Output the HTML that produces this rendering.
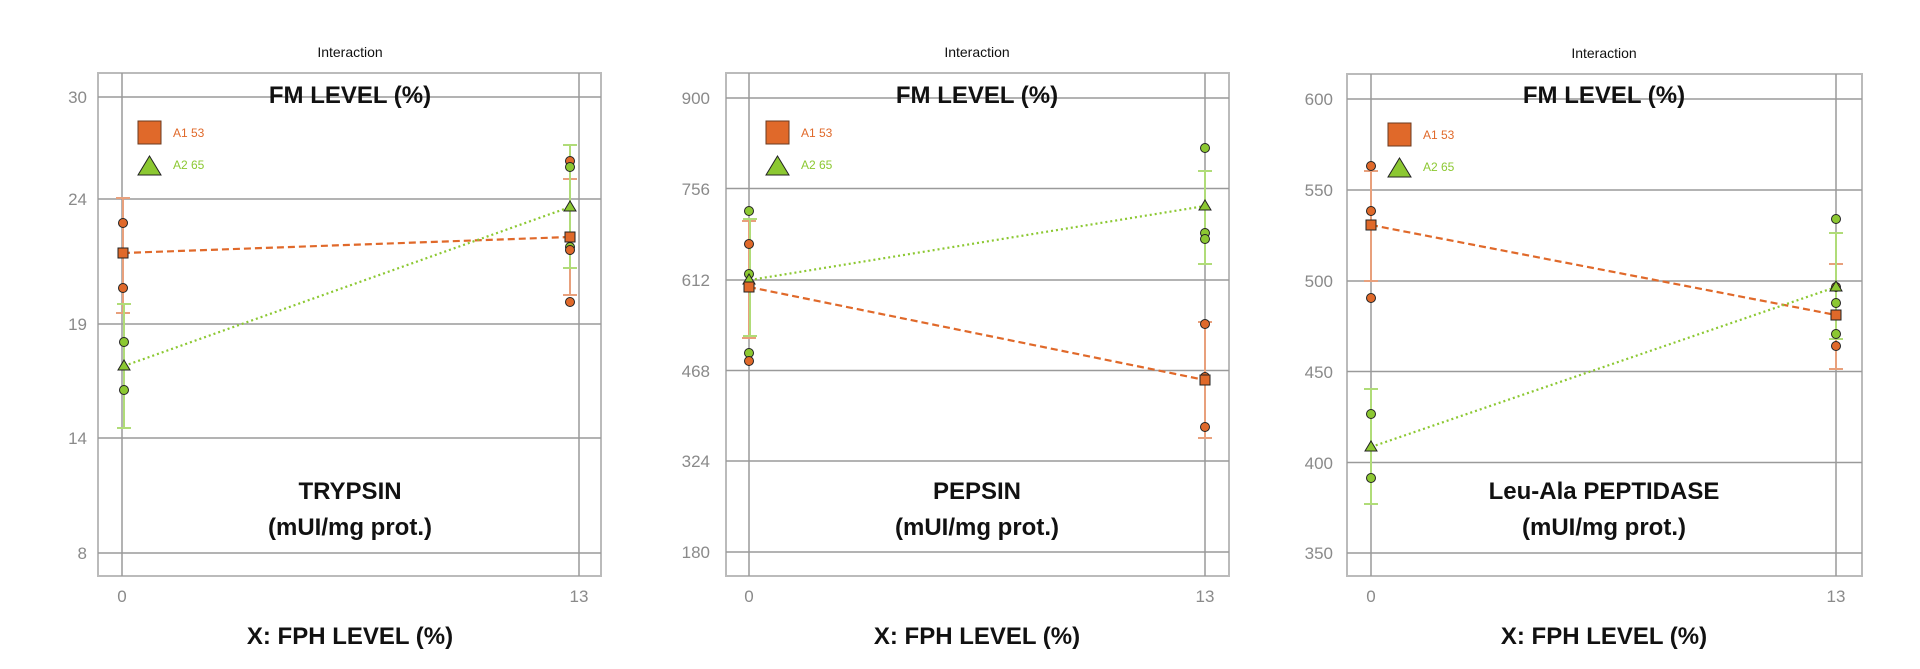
<!DOCTYPE html>
<html><head><meta charset="utf-8"><style>
html,body{margin:0;padding:0;background:#fff;}
svg{display:block;font-family:"Liberation Sans",sans-serif;}
.t{font-size:14px;fill:#111;text-anchor:middle}
.b{font-size:24px;font-weight:bold;fill:#111;text-anchor:middle}
.yt{font-size:17px;fill:#8a8a8a;text-anchor:end}
.xt{font-size:17px;fill:#8a8a8a;text-anchor:middle}
.g{stroke:#9a9a9a;stroke-width:1.5;fill:none}
.f{stroke:#bbb;stroke-width:2;fill:none}
.oe{stroke:#e8a07c;stroke-width:2;fill:none}
.ge{stroke:#b0dc78;stroke-width:2;fill:none}
.oc{fill:#e0692a;stroke:#222;stroke-width:1}
.gc{fill:#8cc832;stroke:#222;stroke-width:1}
</style></head><body>
<svg width="1920" height="669" viewBox="0 0 1920 669">
<!-- PANEL 1 -->
<g>
<rect class="f" x="98" y="73" width="503" height="503"/>
<line class="g" x1="98" x2="601" y1="97" y2="97"/>
<line class="g" x1="98" x2="601" y1="199" y2="199"/>
<line class="g" x1="98" x2="601" y1="324" y2="324"/>
<line class="g" x1="98" x2="601" y1="438" y2="438"/>
<line class="g" x1="98" x2="601" y1="553" y2="553"/>
<line class="g" x1="122" x2="122" y1="73" y2="576"/>
<line class="g" x1="579" x2="579" y1="73" y2="576"/>
<text class="yt" x="87" y="103">30</text>
<text class="yt" x="87" y="205">24</text>
<text class="yt" x="87" y="330">19</text>
<text class="yt" x="87" y="444">14</text>
<text class="yt" x="87" y="559">8</text>
<text class="xt" x="122" y="602">0</text>
<text class="xt" x="579" y="602">13</text>
<text class="t" x="350" y="57">Interaction</text>
<text class="b" x="350" y="103">FM LEVEL (%)</text>
<text class="b" x="350" y="499">TRYPSIN</text>
<text class="b" x="350" y="535">(mUI/mg prot.)</text>
<text class="b" x="350" y="644">X: FPH LEVEL (%)</text>
<rect x="138" y="121" width="23" height="23" fill="#e0692a" stroke="#6a3a20" stroke-width="1"/>
<polygon points="149.5,156 161,175 138,175" fill="#8cc832" stroke="#222" stroke-width="1"/>
<text x="173" y="137" font-size="12" fill="#e0692a">A1 53</text>
<text x="173" y="169" font-size="12" fill="#8cc832">A2 65</text>
<line class="oe" x1="123" x2="123" y1="198" y2="313"/><line class="oe" x1="116" x2="130" y1="198" y2="198"/><line class="oe" x1="116" x2="130" y1="313" y2="313"/>
<line class="ge" x1="124" x2="124" y1="304" y2="428"/><line class="ge" x1="117" x2="131" y1="304" y2="304"/><line class="ge" x1="117" x2="131" y1="428" y2="428"/>
<line class="oe" x1="570" x2="570" y1="179" y2="295"/><line class="oe" x1="563" x2="577" y1="179" y2="179"/><line class="oe" x1="563" x2="577" y1="295" y2="295"/>
<line class="ge" x1="570" x2="570" y1="145" y2="268"/><line class="ge" x1="563" x2="577" y1="145" y2="145"/><line class="ge" x1="563" x2="577" y1="268" y2="268"/>
<line x1="123" y1="253" x2="570" y2="237" stroke="#e0692a" stroke-width="2.2" stroke-dasharray="7,4"/>
<line x1="124" y1="366" x2="570" y2="207" stroke="#8cc832" stroke-width="2.2" stroke-dasharray="2,3"/>
<circle class="oc" cx="123" cy="223" r="4.5"/><circle class="oc" cx="123" cy="288" r="4.5"/>
<circle class="gc" cx="124" cy="342" r="4.5"/><circle class="gc" cx="124" cy="390" r="4.5"/>
<rect class="oc" x="118" y="248" width="10" height="10"/>
<polygon class="gc" points="124,360 130,370 118,370"/>
<circle class="oc" cx="570" cy="161" r="4.5"/><circle class="gc" cx="570" cy="167" r="4.5"/>
<circle class="gc" cx="570" cy="247" r="4.5"/><circle class="oc" cx="570" cy="250" r="4.5"/><circle class="oc" cx="570" cy="302" r="4.5"/>
<rect class="oc" x="565" y="232" width="10" height="10"/>
<polygon class="gc" points="570,201 576,211 564,211"/>
</g>
<!-- PANEL 2 -->
<g>
<rect class="f" x="726" y="73" width="503" height="503"/>
<line class="g" x1="726" x2="1229" y1="98" y2="98"/>
<line class="g" x1="726" x2="1229" y1="188.5" y2="188.5"/>
<line class="g" x1="726" x2="1229" y1="280" y2="280"/>
<line class="g" x1="726" x2="1229" y1="370.5" y2="370.5"/>
<line class="g" x1="726" x2="1229" y1="461" y2="461"/>
<line class="g" x1="726" x2="1229" y1="552" y2="552"/>
<line class="g" x1="749" x2="749" y1="73" y2="576"/>
<line class="g" x1="1205" x2="1205" y1="73" y2="576"/>
<text class="yt" x="710" y="104">900</text>
<text class="yt" x="710" y="195">756</text>
<text class="yt" x="710" y="286">612</text>
<text class="yt" x="710" y="377">468</text>
<text class="yt" x="710" y="467">324</text>
<text class="yt" x="710" y="558">180</text>
<text class="xt" x="749" y="602">0</text>
<text class="xt" x="1205" y="602">13</text>
<text class="t" x="977" y="57">Interaction</text>
<text class="b" x="977" y="103">FM LEVEL (%)</text>
<text class="b" x="977" y="499">PEPSIN</text>
<text class="b" x="977" y="535">(mUI/mg prot.)</text>
<text class="b" x="977" y="644">X: FPH LEVEL (%)</text>
<rect x="766" y="121" width="23" height="23" fill="#e0692a" stroke="#6a3a20" stroke-width="1"/>
<polygon points="777.5,156 789,175 766,175" fill="#8cc832" stroke="#222" stroke-width="1"/>
<text x="801" y="137" font-size="12" fill="#e0692a">A1 53</text>
<text x="801" y="169" font-size="12" fill="#8cc832">A2 65</text>
<line class="oe" x1="749" x2="749" y1="221" y2="338"/><line class="oe" x1="742" x2="756" y1="221" y2="221"/><line class="oe" x1="742" x2="756" y1="338" y2="338"/>
<line class="ge" x1="750" x2="750" y1="219" y2="336"/><line class="ge" x1="743" x2="757" y1="219" y2="219"/><line class="ge" x1="743" x2="757" y1="336" y2="336"/>
<line class="oe" x1="1205" x2="1205" y1="322" y2="438"/><line class="oe" x1="1198" x2="1212" y1="322" y2="322"/><line class="oe" x1="1198" x2="1212" y1="438" y2="438"/>
<line class="ge" x1="1205" x2="1205" y1="171" y2="264"/><line class="ge" x1="1198" x2="1212" y1="171" y2="171"/><line class="ge" x1="1198" x2="1212" y1="264" y2="264"/>
<line x1="749" y1="287" x2="1205" y2="380" stroke="#e0692a" stroke-width="2.2" stroke-dasharray="7,4"/>
<line x1="750" y1="280" x2="1205" y2="206" stroke="#8cc832" stroke-width="2.2" stroke-dasharray="2,3"/>
<circle class="gc" cx="749" cy="211" r="4.5"/><circle class="oc" cx="749" cy="244" r="4.5"/>
<circle class="gc" cx="749" cy="274" r="4.5"/><circle class="gc" cx="749" cy="353" r="4.5"/><circle class="oc" cx="749" cy="361" r="4.5"/>
<polygon class="gc" points="749,274 755,284 743,284"/>
<rect class="oc" x="744" y="282" width="10" height="10"/>
<circle class="gc" cx="1205" cy="148" r="4.5"/>
<circle class="gc" cx="1205" cy="233" r="4.5"/><circle class="gc" cx="1205" cy="239" r="4.5"/>
<circle class="oc" cx="1205" cy="324" r="4.5"/><circle class="oc" cx="1205" cy="377" r="4.5"/><circle class="oc" cx="1205" cy="427" r="4.5"/>
<rect class="oc" x="1200" y="375" width="10" height="10"/>
<polygon class="gc" points="1205,200 1211,210 1199,210"/>
</g>
<!-- PANEL 3 -->
<g>
<rect class="f" x="1347" y="74" width="515" height="502"/>
<line class="g" x1="1347" x2="1862" y1="99" y2="99"/>
<line class="g" x1="1347" x2="1862" y1="190" y2="190"/>
<line class="g" x1="1347" x2="1862" y1="281" y2="281"/>
<line class="g" x1="1347" x2="1862" y1="371.5" y2="371.5"/>
<line class="g" x1="1347" x2="1862" y1="462.5" y2="462.5"/>
<line class="g" x1="1347" x2="1862" y1="553" y2="553"/>
<line class="g" x1="1371" x2="1371" y1="74" y2="576"/>
<line class="g" x1="1836" x2="1836" y1="74" y2="576"/>
<text class="yt" x="1333" y="105">600</text>
<text class="yt" x="1333" y="196">550</text>
<text class="yt" x="1333" y="287">500</text>
<text class="yt" x="1333" y="378">450</text>
<text class="yt" x="1333" y="469">400</text>
<text class="yt" x="1333" y="559">350</text>
<text class="xt" x="1371" y="602">0</text>
<text class="xt" x="1836" y="602">13</text>
<text class="t" x="1604" y="58">Interaction</text>
<text class="b" x="1604" y="103">FM LEVEL (%)</text>
<text class="b" x="1604" y="499">Leu-Ala PEPTIDASE</text>
<text class="b" x="1604" y="535">(mUI/mg prot.)</text>
<text class="b" x="1604" y="644">X: FPH LEVEL (%)</text>
<rect x="1388" y="123" width="23" height="23" fill="#e0692a" stroke="#6a3a20" stroke-width="1"/>
<polygon points="1399.5,158 1411,177 1388,177" fill="#8cc832" stroke="#222" stroke-width="1"/>
<text x="1423" y="139" font-size="12" fill="#e0692a">A1 53</text>
<text x="1423" y="171" font-size="12" fill="#8cc832">A2 65</text>
<line class="oe" x1="1371" x2="1371" y1="171" y2="281"/><line class="oe" x1="1364" x2="1378" y1="171" y2="171"/><line class="oe" x1="1364" x2="1378" y1="281" y2="281"/>
<line class="ge" x1="1371" x2="1371" y1="389" y2="504"/><line class="ge" x1="1364" x2="1378" y1="389" y2="389"/><line class="ge" x1="1364" x2="1378" y1="504" y2="504"/>
<line class="oe" x1="1836" x2="1836" y1="264" y2="369"/><line class="oe" x1="1829" x2="1843" y1="264" y2="264"/><line class="oe" x1="1829" x2="1843" y1="369" y2="369"/>
<line class="ge" x1="1836" x2="1836" y1="233" y2="339"/><line class="ge" x1="1829" x2="1843" y1="233" y2="233"/><line class="ge" x1="1829" x2="1843" y1="339" y2="339"/>
<line x1="1371" y1="225" x2="1836" y2="315" stroke="#e0692a" stroke-width="2.2" stroke-dasharray="7,4"/>
<line x1="1371" y1="447" x2="1836" y2="287" stroke="#8cc832" stroke-width="2.2" stroke-dasharray="2,3"/>
<circle class="oc" cx="1371" cy="166" r="4.5"/><circle class="oc" cx="1371" cy="211" r="4.5"/><circle class="oc" cx="1371" cy="298" r="4.5"/>
<rect class="oc" x="1366" y="220" width="10" height="10"/>
<circle class="gc" cx="1371" cy="414" r="4.5"/><circle class="gc" cx="1371" cy="478" r="4.5"/>
<polygon class="gc" points="1371,441 1377,451 1365,451"/>
<circle class="gc" cx="1836" cy="219" r="4.5"/><circle class="gc" cx="1836" cy="303" r="4.5"/><circle class="gc" cx="1836" cy="334" r="4.5"/>
<circle class="oc" cx="1836" cy="346" r="4.5"/><circle class="oc" cx="1836" cy="287" r="4.5"/>
<rect class="oc" x="1831" y="310" width="10" height="10"/>
<polygon class="gc" points="1836,281 1842,291 1830,291"/>
</g>
</svg>
</body></html>
